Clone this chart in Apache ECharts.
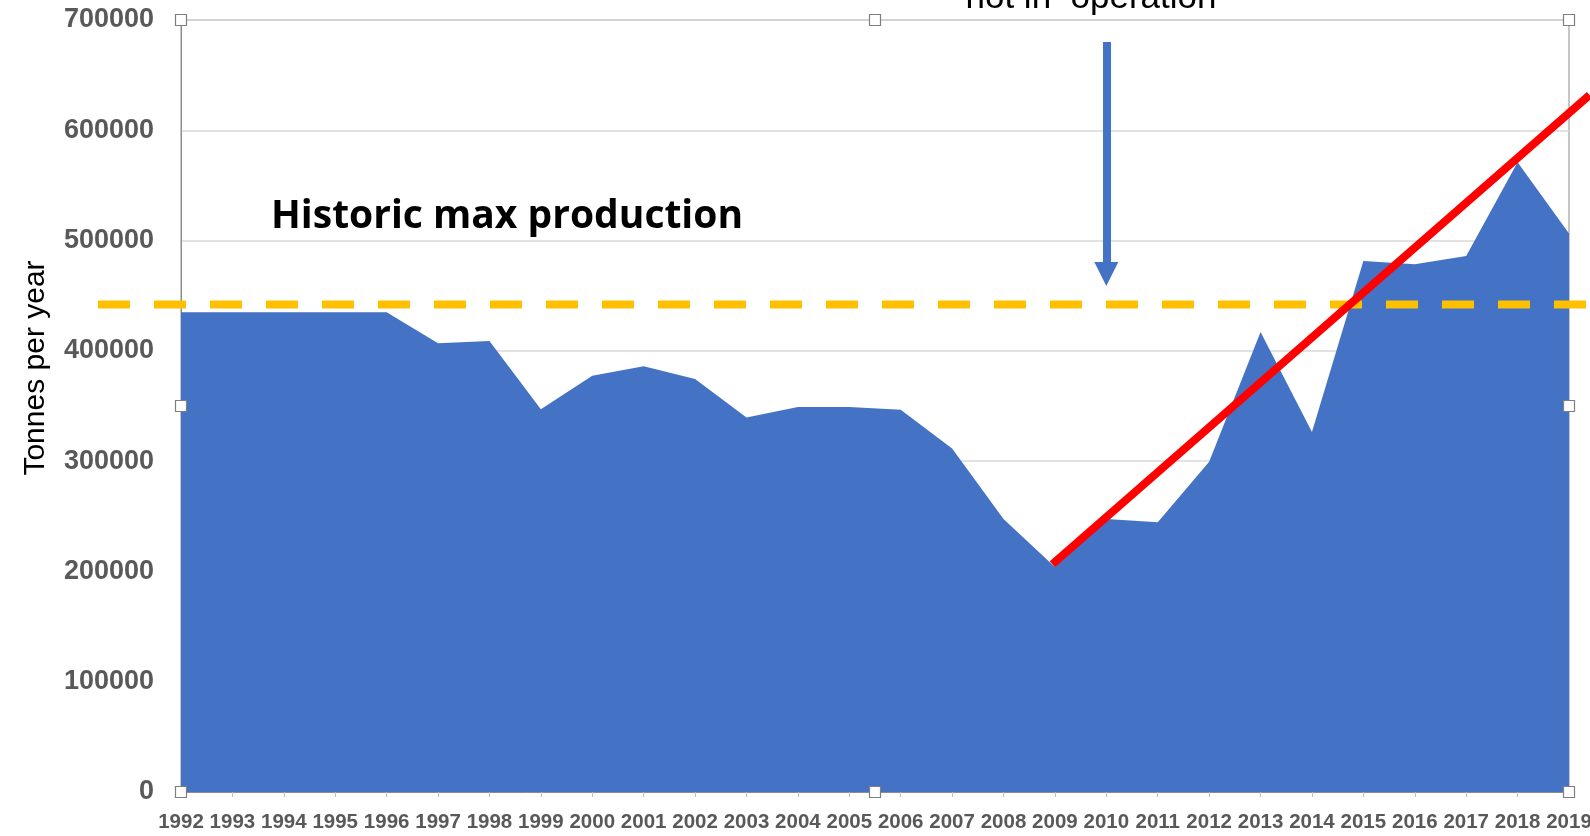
<!DOCTYPE html>
<html>
<head>
<meta charset="utf-8">
<script src="https://cdn.jsdelivr.net/npm/echarts@6/dist/echarts.min.js"></script>
<style>
  html, body { margin: 0; padding: 0; background: #fff; }
  #main { width: 1590px; height: 836px; }
</style>
</head>
<body>
<div id="main"></div>
<script>
// production, tonnes per year
var years = ['1992', '1993', '1994', '1995', '1996', '1997', '1998', '1999', '2000', '2001',
    '2002', '2003', '2004', '2005', '2006', '2007', '2008', '2009', '2010', '2011',
    '2012', '2013', '2014', '2015', '2016', '2017', '2018', '2019'];
var tonnes = [435000, 435000, 435000, 435000, 435000, 407000, 409000, 347000, 377500, 386000,
    374500, 339500, 349000, 349000, 346500, 311500, 247500, 204000, 247500, 244500,
    299500, 417000, 326500, 481500, 478500, 486000, 571000, 506500];

// historic max line and trend line (year, value)
var maxProduction = 442000;
var maxLineYears = [1990.385, 2019.4];
var trendYears = [2008.95, 2019.4];
var trendValues = [206500, 632000];

// arrow under the "not in operation" note
var arrowYear = '2010';
var arrowFrom = 680000;
var arrowTo = 469700;

var yTicks = [0, 100000, 200000, 300000, 400000, 500000, 600000, 700000];

// plot box in the page
var plotLeft = 181, plotRight = 21, plotTop = 20, plotBottom = 44;
var chartW = 1590;
var pxPerYear = (chartW - plotLeft - plotRight) / (years.length - 1);

var numFont = '"Liberation Sans", Arial, sans-serif';

var myChart = echarts.init(document.getElementById('main'));

myChart.setOption({
    animation: false,
    grid: [{
        left: plotLeft,
        right: plotRight,
        top: plotTop,
        bottom: plotBottom,
        outerBoundsMode: 'none',
        containLabel: false,
        show: true,
        borderColor: '#8c8c8c',
        borderWidth: 1
    }, {
        // full-width overlay grid so the annotation lines can run past the plot box
        left: 0,
        right: 0,
        top: plotTop,
        bottom: plotBottom,
        outerBoundsMode: 'none',
        containLabel: false
    }],
    xAxis: [{
        type: 'category',
        gridIndex: 0,
        data: years,
        boundaryGap: false,
        axisLine: { lineStyle: { color: '#8c8c8c', width: 1 } },
        axisTick: { show: true, length: 5, lineStyle: { color: '#bfbfbf' } },
        axisLabel: {
            interval: 0,
            margin: 20,
            color: '#595959',
            fontFamily: numFont,
            fontWeight: 'bold',
            fontSize: 20.5
        },
        splitLine: { show: false }
    }, {
        type: 'value',
        gridIndex: 1,
        min: 1992 - plotLeft / pxPerYear,
        max: 2019 + plotRight / pxPerYear,
        show: false
    }],
    yAxis: [{
        type: 'value',
        gridIndex: 0,
        min: yTicks[0],
        max: yTicks[yTicks.length - 1],
        interval: 100000,
        axisLine: { show: true, lineStyle: { color: '#8c8c8c', width: 1 } },
        axisTick: { show: false },
        axisLabel: {
            margin: 27,
            color: '#595959',
            fontFamily: numFont,
            fontWeight: 'bold',
            fontSize: 27,
            formatter: function (v) { return String(v); }
        },
        splitLine: { lineStyle: { color: '#d9d9d9', width: 1.5 } }
    }, {
        type: 'value',
        gridIndex: 1,
        min: yTicks[0],
        max: yTicks[yTicks.length - 1],
        show: false
    }],
    series: [{
        type: 'line',
        data: tonnes,
        symbol: 'none',
        lineStyle: { width: 0, color: '#4472C4' },
        areaStyle: { color: '#4472C4', opacity: 1 },
        z: 2,
        markLine: {
            silent: true,
            symbol: ['none', 'triangle'],
            symbolSize: [24, 24],
            label: { show: false },
            lineStyle: { color: '#4472C4', width: 8, type: 'solid' },
            data: [[
                { coord: [arrowYear, arrowFrom] },
                { coord: [arrowYear, arrowTo] }
            ]]
        }
    }, {
        type: 'line',
        xAxisIndex: 1,
        yAxisIndex: 1,
        data: maxLineYears.map(function (y) { return [y, maxProduction]; }),
        symbol: 'none',
        lineStyle: { color: '#FFC000', width: 8, type: [32, 24] },
        z: 3
    }, {
        type: 'line',
        xAxisIndex: 1,
        yAxisIndex: 1,
        data: trendYears.map(function (y, i) { return [y, trendValues[i]]; }),
        symbol: 'none',
        lineStyle: { color: '#FF0000', width: 8 },
        z: 4
    }]
});

// plot-area selection handles + annotation texts
var boxL = myChart.convertToPixel({ xAxisIndex: 0 }, years[0]);
var boxR = myChart.convertToPixel({ xAxisIndex: 0 }, years[years.length - 1]);
var boxT = myChart.convertToPixel({ yAxisIndex: 0 }, yTicks[yTicks.length - 1]);
var boxB = myChart.convertToPixel({ yAxisIndex: 0 }, yTicks[0]);
var boxMidX = (boxL + boxR) / 2, boxMidY = (boxT + boxB) / 2;
var handlePts = [[boxL, boxT], [boxMidX, boxT], [boxR, boxT], [boxL, boxMidY], [boxR, boxMidY],
    [boxL, boxB], [boxMidX, boxB], [boxR, boxB]];

var graphics = handlePts.map(function (p) {
    return {
        type: 'rect',
        z: 100,
        zlevel: 1,
        shape: { x: Math.round(p[0]) - 5.5, y: Math.round(p[1]) - 5.5, width: 11, height: 11 },
        style: { fill: '#fff', stroke: '#7f7f7f', lineWidth: 1.2 }
    };
});

graphics.push({
    type: 'text',
    x: 36, y: 368,
    rotation: Math.PI / 2,
    style: {
        text: 'Tonnes per year',
        font: '30px "Liberation Sans", Arial, sans-serif',
        fill: '#000',
        textAlign: 'center',
        textVerticalAlign: 'middle'
    }
});
graphics.push({
    type: 'text',
    x: 271, y: 217,
    z: 50,
    style: {
        text: 'Historic max production',
        font: 'bold 39px "Open Sans", sans-serif',
        fill: '#000',
        textAlign: 'left',
        textVerticalAlign: 'middle'
    }
});
graphics.push({
    type: 'text',
    x: 1091, y: -2,
    z: 50,
    style: {
        text: 'not in  operation',
        font: '35px "Liberation Sans", Arial, sans-serif',
        fill: '#000',
        textAlign: 'center',
        textVerticalAlign: 'middle'
    }
});

myChart.setOption({ graphic: graphics });
</script>
</body>
</html>
